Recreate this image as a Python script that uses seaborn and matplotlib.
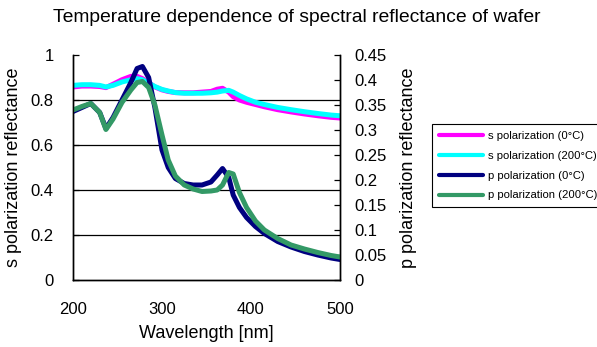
import matplotlib
matplotlib.use("Agg")
import matplotlib.pyplot as plt
import seaborn as sns
import pandas as pd

# wavelength grid shared by all four curves [nm]
wavelength = [200, 210, 220, 230, 237, 245, 255, 265, 272, 278, 285, 292, 300,
              307, 315, 325, 335, 345, 355, 362, 368, 375, 380, 387, 395, 405,
              415, 430, 445, 460, 475, 490, 500]

# s polarization (left axis)
s_0c = [0.858, 0.862, 0.862, 0.860, 0.855, 0.870, 0.890, 0.905, 0.905, 0.895,
        0.877, 0.858, 0.845, 0.838, 0.833, 0.832, 0.832, 0.835, 0.838, 0.848,
        0.852, 0.835, 0.815, 0.800, 0.790, 0.780, 0.770, 0.757, 0.747, 0.738,
        0.730, 0.723, 0.720]
s_200c = [0.865, 0.868, 0.868, 0.865, 0.858, 0.865, 0.880, 0.890, 0.895, 0.890,
          0.875, 0.860, 0.847, 0.840, 0.833, 0.830, 0.830, 0.830, 0.832, 0.835,
          0.840, 0.843, 0.835, 0.820, 0.805, 0.790, 0.780, 0.767, 0.757, 0.748,
          0.740, 0.733, 0.730]

# p polarization (right axis)
p_0c = [0.337, 0.345, 0.353, 0.335, 0.303, 0.325, 0.360, 0.395, 0.423, 0.427,
        0.405, 0.345, 0.260, 0.225, 0.203, 0.193, 0.190, 0.190, 0.196, 0.210,
        0.223, 0.205, 0.170, 0.145, 0.125, 0.107, 0.093, 0.077, 0.066, 0.057,
        0.050, 0.044, 0.041]
p_200c = [0.340, 0.347, 0.353, 0.335, 0.301, 0.322, 0.355, 0.380, 0.395, 0.397,
          0.385, 0.350, 0.290, 0.240, 0.208, 0.190, 0.182, 0.177, 0.178, 0.180,
          0.190, 0.215, 0.212, 0.175, 0.145, 0.118, 0.100, 0.083, 0.070, 0.062,
          0.055, 0.049, 0.046]

labels = ["s polarization (0\u00b0C)", "s polarization (200\u00b0C)",
          "p polarization (0\u00b0C)", "p polarization (200\u00b0C)"]
colors = ["#ff00ff", "#00ffff", "#000080", "#339966"]

n = len(wavelength)
df_s = pd.DataFrame({"wl": wavelength * 2, "val": s_0c + s_200c,
                     "series": [labels[0]] * n + [labels[1]] * n})
df_p = pd.DataFrame({"wl": wavelength * 2, "val": p_0c + p_200c,
                     "series": [labels[2]] * n + [labels[3]] * n})

sns.set_style("white")
plt.rcParams["font.family"] = ["Liberation Sans", "DejaVu Sans"]
for k in ("text.color", "axes.labelcolor", "xtick.color", "ytick.color"):
    plt.rcParams[k] = "black"

fig = plt.figure(figsize=(5.97, 3.47), dpi=100)
ax = fig.add_axes([73 / 597, 67 / 347, 267 / 597, 225 / 347])
ax2 = ax.twinx()

lw = 3.6
sns.lineplot(data=df_s, x="wl", y="val", hue="series", palette=colors[:2],
             linewidth=lw, ax=ax, legend=False)
sns.lineplot(data=df_p, x="wl", y="val", hue="series", palette=colors[2:],
             linewidth=lw, ax=ax2, legend=False)

ax.set_xlim(200, 500)
ax.set_ylim(0, 1)
ax2.set_ylim(0, 0.45)
ax.set_xticks([200, 300, 400, 500])
ax.set_yticks([0, 0.2, 0.4, 0.6, 0.8, 1])
ax.set_yticklabels(["0", "0.2", "0.4", "0.6", "0.8", "1"])
ax2.set_yticks([i * 0.05 for i in range(10)])
ax2.set_yticklabels(["0", "0.05", "0.1", "0.15", "0.2", "0.25", "0.3",
                     "0.35", "0.4", "0.45"])

for y in [0.2, 0.4, 0.6, 0.8]:
    ax.axhline(y, color="black", linewidth=0.9, zorder=0)

for a in (ax, ax2):
    a.spines["top"].set_visible(False)
    for s in ("left", "right", "bottom"):
        a.spines[s].set_color("black")
        a.spines[s].set_linewidth(1.0)
    a.tick_params(direction="in", length=4, width=0.9, color="black",
                  labelsize=12)
ax.tick_params(axis="x", pad=16)
ax.tick_params(axis="y", pad=14)
ax2.tick_params(axis="y", pad=10)

ax.set_xlabel("Wavelength [nm]", fontsize=13)
ax.set_ylabel("s polarization reflectance", fontsize=13)
ax2.set_ylabel("p polarization reflectance", fontsize=13)
ax.xaxis.set_label_coords(0.5, (280 - 334) / 225)
ax.xaxis.label.set_va("center")
ax.yaxis.set_label_coords((13 - 73) / 267, 0.5)
ax.yaxis.label.set_va("center")
ax2.yaxis.set_label_coords((409 - 73) / 267, 0.5)
ax2.yaxis.label.set_va("center")

fig.text(297 / 597, 1 - 17 / 347,
         "Temperature dependence of spectral reflectance of wafer",
         ha="center", va="center", fontsize=13.9)

handles = [plt.Line2D([], [], color=c, linewidth=3.0) for c in colors]
leg = fig.legend(handles, labels, loc="upper left",
                 bbox_to_anchor=(432 / 597, 1 - 124 / 347), fontsize=8.1,
                 frameon=True, fancybox=False, handlelength=3.9,
                 handletextpad=0.5, borderpad=0.6, labelspacing=0.88,
                 borderaxespad=0)
leg.get_frame().set_edgecolor("black")
leg.get_frame().set_linewidth(0.8)
leg.get_frame().set_alpha(1)

fig.savefig("out.png", dpi=100)
